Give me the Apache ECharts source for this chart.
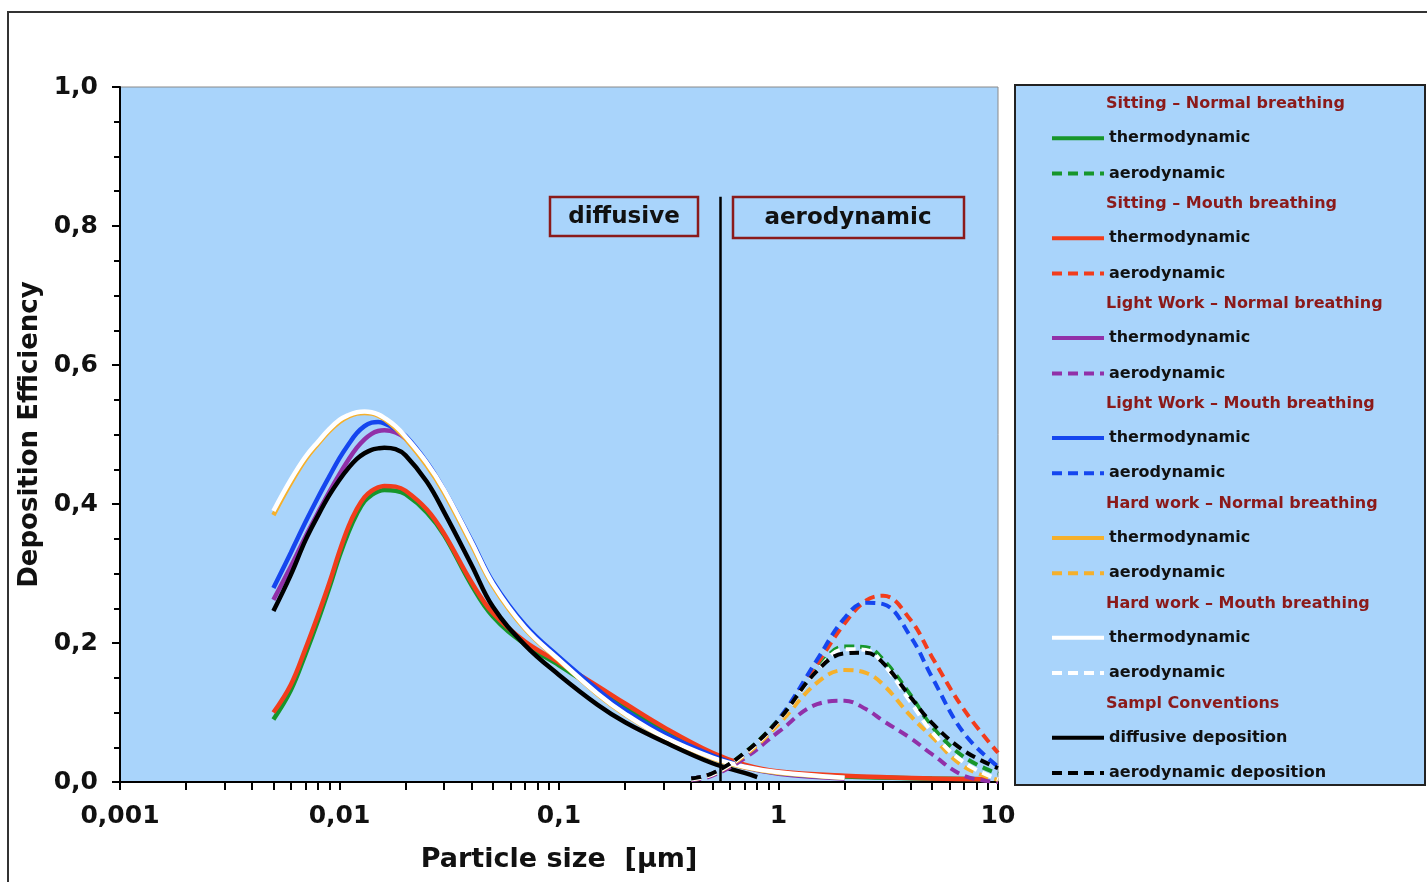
<!DOCTYPE html>
<html>
<head>
<meta charset="utf-8">
<script src="https://cdn.jsdelivr.net/npm/echarts@6/dist/echarts.min.js"></script>
<style>
html, body { margin: 0; padding: 0; background: #fff; }
#main { width: 1427px; height: 882px; }
</style>
</head>
<body>
<div id="main"></div>
<script>
// particle sizes [µm]
var diffSize = [0.005, 0.006, 0.007, 0.008, 0.009, 0.01, 0.011, 0.012, 0.013, 0.014, 0.015, 0.016, 0.018, 0.02, 0.025, 0.03, 0.04, 0.05, 0.07, 0.1, 0.15, 0.2, 0.3, 0.5, 0.7, 1, 2, 5, 9];
var diffSizeConv = [0.005, 0.006, 0.007, 0.008, 0.009, 0.01, 0.011, 0.012, 0.013, 0.014, 0.015, 0.016, 0.018, 0.02, 0.025, 0.03, 0.04, 0.05, 0.07, 0.1, 0.15, 0.2, 0.3, 0.5, 0.7, 0.8];
var aeroSize = [0.4, 0.5, 0.7, 1, 1.5, 2, 2.5, 3, 4, 5, 7, 10];

// thermodynamic (diffusive) deposition
var sitNormThermo = [0.09, 0.132, 0.184, 0.233, 0.28, 0.325, 0.36, 0.386, 0.404, 0.413, 0.418, 0.42, 0.419, 0.414, 0.388, 0.355, 0.283, 0.238, 0.198, 0.168, 0.132, 0.108, 0.076, 0.04, 0.023, 0.013, 0.008, 0.005, 0.004];
var sitMouthThermo = [0.10, 0.14, 0.192, 0.241, 0.287, 0.332, 0.368, 0.393, 0.41, 0.419, 0.424, 0.426, 0.425, 0.419, 0.392, 0.357, 0.287, 0.243, 0.202, 0.172, 0.138, 0.113, 0.079, 0.042, 0.025, 0.015, 0.009, 0.005, 0.004];
var lightNormThermo = [0.262, 0.31, 0.353, 0.388, 0.418, 0.443, 0.464, 0.481, 0.493, 0.501, 0.505, 0.506, 0.503, 0.494, 0.458, 0.418, 0.345, 0.285, 0.223, 0.177, 0.13, 0.1, 0.067, 0.036, 0.021, 0.012, 0.005];
var lightMouthThermo = [0.279, 0.33, 0.374, 0.41, 0.44, 0.466, 0.486, 0.502, 0.512, 0.517, 0.518, 0.516, 0.508, 0.498, 0.46, 0.42, 0.347, 0.288, 0.226, 0.18, 0.133, 0.103, 0.07, 0.038, 0.022, 0.013, 0.006];
var hardNormThermo = [0.384, 0.43, 0.464, 0.487, 0.505, 0.518, 0.526, 0.53, 0.531, 0.53, 0.527, 0.522, 0.509, 0.494, 0.455, 0.416, 0.341, 0.282, 0.22, 0.175, 0.126, 0.097, 0.064, 0.034, 0.021, 0.013, 0.006];
var hardMouthThermo = [0.39, 0.435, 0.468, 0.49, 0.508, 0.521, 0.528, 0.532, 0.533, 0.532, 0.529, 0.524, 0.512, 0.497, 0.459, 0.42, 0.345, 0.285, 0.222, 0.176, 0.127, 0.098, 0.065, 0.035, 0.022, 0.014, 0.006];
var convDiffusive = [0.246, 0.298, 0.348, 0.384, 0.413, 0.435, 0.452, 0.465, 0.473, 0.478, 0.48, 0.481, 0.479, 0.47, 0.432, 0.388, 0.312, 0.252, 0.197, 0.154, 0.111, 0.086, 0.058, 0.027, 0.013, 0.007];

// aerodynamic deposition
var sitNormAero = [0.005, 0.012, 0.042, 0.09, 0.163, 0.195, 0.194, 0.176, 0.125, 0.08, 0.036, 0.012];
var sitMouthAero = [0.005, 0.012, 0.04, 0.088, 0.17, 0.228, 0.261, 0.268, 0.233, 0.18, 0.104, 0.042];
var lightNormAero = [0.003, 0.009, 0.034, 0.072, 0.112, 0.117, 0.105, 0.088, 0.063, 0.04, 0.009, 0.0];
var lightMouthAero = [0.005, 0.012, 0.04, 0.09, 0.176, 0.236, 0.258, 0.256, 0.209, 0.151, 0.07, 0.022];
var hardNormAero = [0.004, 0.011, 0.038, 0.083, 0.143, 0.161, 0.157, 0.14, 0.095, 0.065, 0.022, 0.003];
var hardMouthAero = [0.004, 0.011, 0.04, 0.088, 0.16, 0.191, 0.19, 0.17, 0.115, 0.072, 0.028, 0.004];
var convAero = [0.005, 0.0125, 0.042, 0.089, 0.16, 0.185, 0.186, 0.171, 0.122, 0.085, 0.045, 0.02];

// boundary diffusive / aerodynamic
var splitSize = 0.54;
var splitTop = 0.842;

var groupNames = ['Sitting – Normal breathing', 'Sitting – Mouth breathing', 'Light Work – Normal breathing',
    'Light Work – Mouth breathing', 'Hard work – Normal breathing', 'Hard work – Mouth breathing', 'Sampl Conventions'];
var itemLabels = [['thermodynamic', 'aerodynamic'], ['thermodynamic', 'aerodynamic'], ['thermodynamic', 'aerodynamic'],
    ['thermodynamic', 'aerodynamic'], ['thermodynamic', 'aerodynamic'], ['thermodynamic', 'aerodynamic'],
    ['diffusive deposition', 'aerodynamic deposition']];
var groupColors = ['#17962b', '#f23c1c', '#9130a8', '#1546ef', '#f5b02c', '#ffffff', '#000000'];

var thermoData = [sitNormThermo, sitMouthThermo, lightNormThermo, lightMouthThermo, hardNormThermo, hardMouthThermo, convDiffusive];
var aeroData = [sitNormAero, sitMouthAero, lightNormAero, lightMouthAero, hardNormAero, hardMouthAero, convAero];

function pairs(xs, ys) {
    return ys.map(function (v, i) { return [xs[i], v]; });
}

var FONT = 'DejaVu Sans';
var BG = '#a9d4fb';
var labelOf = {};
var series = [];
var legends = [];
var graphics = [];

// outer frame + legend box
graphics.push({
    type: 'rect', z: -10,
    shape: { x: 8, y: 12, width: 1460, height: 920 },
    style: { fill: 'none', stroke: '#333', lineWidth: 2 }
});
graphics.push({
    type: 'rect', z: -10,
    shape: { x: 1015, y: 85, width: 410, height: 700 },
    style: { fill: BG, stroke: '#222', lineWidth: 2 }
});

var rowH = 33.3;
var row0 = 104;

groupNames.forEach(function (g, k) {
    var nThermo = g + ' / ' + itemLabels[k][0];
    var nAero = g + ' / ' + itemLabels[k][1];
    labelOf[nThermo] = itemLabels[k][0];
    labelOf[nAero] = itemLabels[k][1];

    var s1 = {
        name: nThermo,
        type: 'line',
        data: pairs(k === 6 ? diffSizeConv : diffSize, thermoData[k]),
        smooth: 0.4,
        symbol: 'none',
        lineStyle: { color: groupColors[k], width: 4.5 },
        itemStyle: { color: groupColors[k] },
        z: 2
    };
    if (k === 6) {
        s1.markLine = {
            silent: true,
            symbol: ['none', 'none'],
            label: { show: false },
            lineStyle: { color: '#000', width: 2.5, type: 'solid' },
            data: [[{ coord: [splitSize, 0] }, { coord: [splitSize, splitTop] }]]
        };
    }
    series.push(s1);
    series.push({
        name: nAero,
        type: 'line',
        data: pairs(aeroSize, aeroData[k]),
        smooth: 0.4,
        symbol: 'none',
        lineStyle: { color: groupColors[k], width: 4, type: [10, 6] },
        itemStyle: { color: groupColors[k] },
        z: 3
    });

    var headerY = row0 + 3 * k * rowH;
    graphics.push({
        type: 'text',
        x: 1106, y: headerY,
        style: {
            text: g, fill: '#8b1a1a', font: 'bold 16px "DejaVu Sans"',
            verticalAlign: 'middle'
        }
    });

    legends.push({
        orient: 'vertical',
        left: 1050,
        top: headerY + rowH - 7,
        padding: 0,
        itemWidth: 52,
        itemHeight: 14,
        itemGap: rowH - 14,
        selectedMode: false,
        itemStyle: { opacity: 0 },
        lineStyle: { width: 4 },
        data: [nThermo, nAero],
        formatter: function (name) { return labelOf[name]; },
        textStyle: { fontFamily: FONT, fontWeight: 'bold', fontSize: 16, color: '#111', lineHeight: 14 }
    });
});

// annotation boxes
graphics.push({
    type: 'rect',
    shape: { x: 550, y: 197, width: 148, height: 39 },
    style: { fill: 'none', stroke: '#8b1a1a', lineWidth: 2.5 }
});
graphics.push({
    type: 'text', x: 624, y: 217,
    style: { text: 'diffusive', fill: '#111', font: 'bold 23px "DejaVu Sans"', align: 'center', verticalAlign: 'middle' }
});
graphics.push({
    type: 'rect',
    shape: { x: 733, y: 197, width: 231, height: 41 },
    style: { fill: 'none', stroke: '#8b1a1a', lineWidth: 2.5 }
});
graphics.push({
    type: 'text', x: 848, y: 218,
    style: { text: 'aerodynamic', fill: '#111', font: 'bold 23px "DejaVu Sans"', align: 'center', verticalAlign: 'middle' }
});

var chart = echarts.init(document.getElementById('main'));
var option = {
    animation: false,
    backgroundColor: '#fff',
    grid: {
        left: 120, right: 429, top: 87, bottom: 100,
        show: true, backgroundColor: BG, borderColor: '#8a8a8a', borderWidth: 1
    },
    legend: legends,
    xAxis: {
        type: 'log',
        logBase: 10,
        min: 0.001,
        max: 10,
        name: 'Particle size  [μm]',
        nameLocation: 'middle',
        nameGap: 64,
        nameTextStyle: { fontFamily: FONT, fontWeight: 'bold', fontSize: 27, color: '#111' },
        axisLine: { lineStyle: { color: '#000', width: 2 } },
        axisTick: { length: 8, lineStyle: { color: '#000', width: 2 } },
        minorTick: { show: true, splitNumber: 9, length: 8, lineStyle: { color: '#000', width: 2 } },
        splitLine: { show: false },
        minorSplitLine: { show: false },
        axisLabel: {
            margin: 22,
            fontFamily: FONT, fontWeight: 'bold', fontSize: 25, color: '#111',
            formatter: function (v) { return String(v).replace('.', ','); }
        }
    },
    yAxis: {
        type: 'value',
        min: 0,
        max: 1,
        interval: 0.2,
        name: 'Deposition Efficiency',
        nameLocation: 'middle',
        nameGap: 76,
        nameTextStyle: { fontFamily: FONT, fontWeight: 'bold', fontSize: 26, color: '#111' },
        axisLine: { show: true, lineStyle: { color: '#000', width: 2 } },
        axisTick: { show: true, length: 8, lineStyle: { color: '#000', width: 2 } },
        minorTick: { show: true, splitNumber: 4, length: 6, lineStyle: { color: '#000', width: 2 } },
        splitLine: { show: false },
        axisLabel: {
            margin: 22,
            fontFamily: FONT, fontWeight: 'bold', fontSize: 25, color: '#111',
            formatter: function (v) { return v.toFixed(1).replace('.', ','); }
        }
    },
    graphic: graphics,
    series: series
};
chart.setOption(option);
</script>
</body>
</html>
